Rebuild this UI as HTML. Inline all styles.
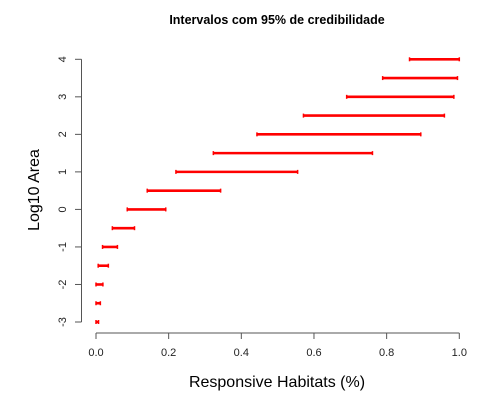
<!DOCTYPE html>
<html><head><meta charset="utf-8"><style>
html,body{margin:0;padding:0;background:#fff;}
svg{display:block;font-family:"Liberation Sans",Arial,sans-serif;}
</style></head><body>
<svg id="chart" width="485" height="402">
<text x="277" y="24" text-anchor="middle" font-size="12.5" font-weight="bold" fill="#000">Intervalos com 95% de credibilidade</text>
<g id="axes"></g>
<g id="marks"></g>
<text x="277" y="387" text-anchor="middle" font-size="16" fill="#000">Responsive Habitats (%)</text>
<text transform="translate(39,190) rotate(-90)" text-anchor="middle" font-size="16" fill="#000">Log10 Area</text>
</svg>
<script>
const logArea = [-3,-2.5,-2,-1.5,-1,-0.5,0,0.5,1,1.5,2,2.5,3,3.5,4];
const lower = [0,0,0,0.006,0.018,0.045,0.086,0.141,0.220,0.323,0.443,0.571,0.690,0.789,0.863];
const upper = [0.007,0.012,0.019,0.034,0.059,0.106,0.192,0.343,0.555,0.761,0.894,0.959,0.985,0.995,1.0];
const xTicks = [0,0.2,0.4,0.6,0.8,1.0];
const xTickLabels = ["0.0","0.2","0.4","0.6","0.8","1.0"];
const yTicks = [-3,-2,-1,0,1,2,3,4];

const NS="http://www.w3.org/2000/svg";
const xs = v => 96 + v*(459.3-96);
const ys = v => 322 - (v+3)*(322-59.3)/7;
const axes=document.getElementById('axes'), marks=document.getElementById('marks');
function mk(tag,attrs,parent){const e=document.createElementNS(NS,tag);for(const k in attrs)e.setAttribute(k,attrs[k]);parent.appendChild(e);return e;}

const xa=mk('line',{x1:xs(0),x2:xs(1),y1:333,y2:333,stroke:'#555','stroke-width':1},axes);


xTicks.forEach((t,i)=>{
  const l=mk('line',{x1:xs(t),x2:xs(t),y1:333,y2:339,stroke:'#555'},axes);
  
  
  const tx=mk('text',{x:xs(t),y:356,'text-anchor':'middle','font-size':11,fill:'#222'},axes);
  tx.textContent=xTickLabels[i];
  
  
});
const ya=mk('line',{x1:81.5,x2:81.5,y1:ys(-3),y2:ys(4),stroke:'#555','stroke-width':1},axes);


yTicks.forEach(t=>{
  const l=mk('line',{x1:75,x2:81.5,y1:ys(t),y2:ys(t),stroke:'#555'},axes);
  
  
  const tx=mk('text',{transform:`translate(66,${ys(t)}) rotate(-90)`,'text-anchor':'middle','font-size':11,fill:'#222'},axes);
  tx.textContent=String(t);
  
  
});
logArea.forEach((a,i)=>{
  const y=ys(a), x1=xs(lower[i]), x2=Math.max(xs(upper[i]),x1+2);
  const g=mk('g',{},marks);
  
  
  mk('line',{x1:x1,x2:x2,y1:y,y2:y,stroke:'#ff0000','stroke-width':2.6},g);
  mk('line',{x1:x1,x2:x1,y1:y-2,y2:y+2,stroke:'#ff0000','stroke-width':1.5},g);
  mk('line',{x1:x2,x2:x2,y1:y-2,y2:y+2,stroke:'#ff0000','stroke-width':1.5},g);
});
</script>
</body></html>
